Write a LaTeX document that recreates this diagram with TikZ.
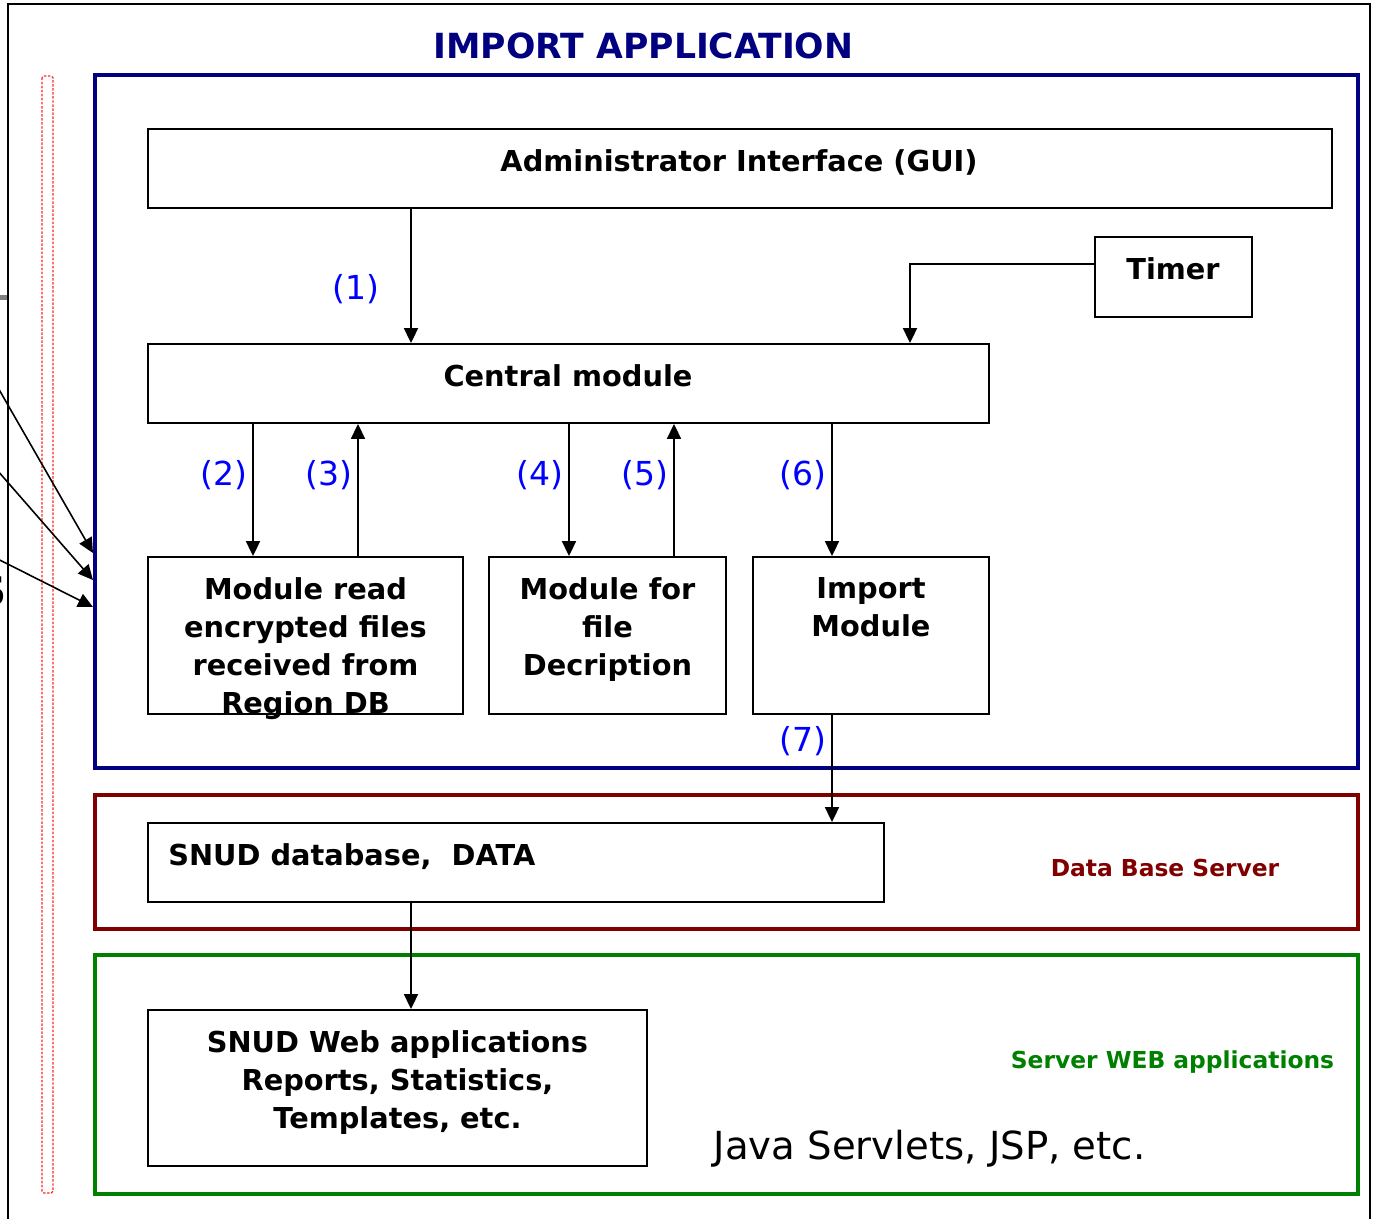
\documentclass[tikz,border=0pt]{standalone}
\usepackage{fontspec}
\setmainfont{DejaVu Sans}
\usepackage{tikz}
\usetikzlibrary{arrows.meta,positioning,fit}
\definecolor{appblue}{RGB}{0,0,128}
\definecolor{dbred}{RGB}{128,0,0}
\definecolor{webgreen}{RGB}{0,128,0}
\definecolor{numblue}{RGB}{0,0,255}

\begin{document}
\begin{tikzpicture}[x=0.02cm,y=-0.02cm,
		box/.style={draw,line width=1.1pt,inner sep=0pt},
		frame/.style={draw,line width=2.3pt,inner sep=0pt},
		boxtext/.style={inner sep=0pt,align=center,font=\fontsize{16.4}{21.6}\selectfont\bfseries},
		srvtext/.style={inner sep=0pt,anchor=base,font=\fontsize{13.3}{16}\selectfont\bfseries},
		num/.style={inner sep=0pt,anchor=base,color=numblue,font=\fontsize{18.8}{22}\selectfont},
		link/.style={line width=0.9pt,-{Triangle[length=8.5pt,width=8pt]}}]
			\useasboundingbox (0,0) rectangle (1376,1218);
			\draw[line width=1.1pt] (8,1240) -- (8,4) -- (1370,4) -- (1370,1240);
			\draw[red!85,line width=0.7pt,dash pattern=on 1.4pt off 0.9pt,rounded corners=1pt] (42,76) rectangle (53,1193);
			\fill[gray] (0,295) rectangle (7,300);
			\node[anchor=base east,inner sep=0pt,font=\fontsize{23}{26}\selectfont\bfseries] (srcs) at (7,605) {S};
			\node[anchor=base,inner sep=0pt,color=appblue,font=\fontsize{19.7}{24}\selectfont\bfseries] (title) at (643.5,58.5) {IMPORT APPLICATION};
			\node[frame,draw=appblue,fit={(95,75) (1358,768)}] (app) {};
			\node[frame,draw=dbred,fit={(95,795) (1358,929)}] (dbsrv) {};
			\node[frame,draw=webgreen,fit={(95,955) (1358,1194)}] (websrv) {};
			\node[box,fit={(148,129) (1332,208)}] (gui) {};
			\node[box,fit={(1095,237) (1252,317)}] (timer) {};
			\node[box,fit={(148,344) (989,423)}] (central) {};
			\node[box,fit={(148,557) (463,714)}] (reader) {};
			\node[box,fit={(489,557) (726,714)}] (decrypt) {};
			\node[box,fit={(753,557) (989,714)}] (import) {};
			\node[box,fit={(148,823) (884,902)}] (snuddb) {};
			\node[box,fit={(148,1010) (647,1166)}] (snudweb) {};
			\node[boxtext,anchor=base] (gui-t) at (739,171.5) {Administrator Interface (GUI)};
			\node[boxtext,anchor=base] (timer-t) at (1173,279.5) {Timer};
			\node[boxtext,anchor=base] (central-t) at (568,386.5) {Central module};
			\node[boxtext,anchor=north] (reader-t) at (305.5,577.5) {Module read\\encrypted files\\received from\\Region DB};
			\node[boxtext,anchor=north] (decrypt-t) at (607.5,577.5) {Module for\\file\\Decription};
			\node[boxtext,anchor=north] (import-t) at (871,577.5) {Import\\Module};
			\node[boxtext,anchor=base west] (snuddb-t) at (168,865.5) {SNUD database,\ \ DATA};
			\node[boxtext,anchor=north] (snudweb-t) at (397.5,1030.5) {SNUD Web applications\\Reports, Statistics,\\Templates, etc.};
			\node[srvtext,color=dbred] (dbsrv-t) at (1165,876.5) {Data Base Server};
			\node[srvtext,color=webgreen] (websrv-t) at (1172.5,1068.5) {Server WEB applications};
			\node[anchor=base,inner sep=0pt,font=\fontsize{22}{26}\selectfont] (java-t) at (929.5,1159) {Java Servlets, JSP, etc.};
			\coordinate (c1) at (411,0);
			\coordinate (c2) at (253,0);
			\coordinate (c3) at (358,0);
			\coordinate (c4) at (569,0);
			\coordinate (c5) at (674,0);
			\coordinate (c6) at (832,0);
			\coordinate (c7) at (910,0);
			\coordinate (tm) at (0,264);
			\draw[link] (gui.south -| c1) -- (central.north -| c1);
			\draw[link] (timer.west |- tm) -| (central.north -| c7);
			\draw[link] (central.south -| c2) -- (reader.north -| c2);
			\draw[link] (reader.north -| c3) -- (central.south -| c3);
			\draw[link] (central.south -| c4) -- (decrypt.north -| c4);
			\draw[link] (decrypt.north -| c5) -- (central.south -| c5);
			\draw[link] (central.south -| c6) -- (import.north -| c6);
			\draw[link] (import.south -| c6) -- (snuddb.north -| c6);
			\draw[link] (snuddb.south -| c1) -- (snudweb.north -| c1);
			\node[num] (n1) at (356,299) {(1)};
			\node[num] (n2) at (224,485) {(2)};
			\node[num] (n3) at (329,485) {(3)};
			\node[num] (n4) at (540,485) {(4)};
			\node[num] (n5) at (645,485) {(5)};
			\node[num] (n6) at (803,485) {(6)};
			\node[num] (n7) at (803,751) {(7)};
			\coordinate (s1) at (-30,339);
			\coordinate (s2) at (-30,439);
			\coordinate (s3) at (-30,545);
			\coordinate (e1) at (0,553);
			\coordinate (e2) at (0,580);
			\coordinate (e3) at (0,607);
			\draw[link] (s1) -- (app.west |- e1);
			\draw[link] (s2) -- (app.west |- e2);
			\draw[link] (s3) -- (app.west |- e3);
		\end{tikzpicture}
\end{document}
